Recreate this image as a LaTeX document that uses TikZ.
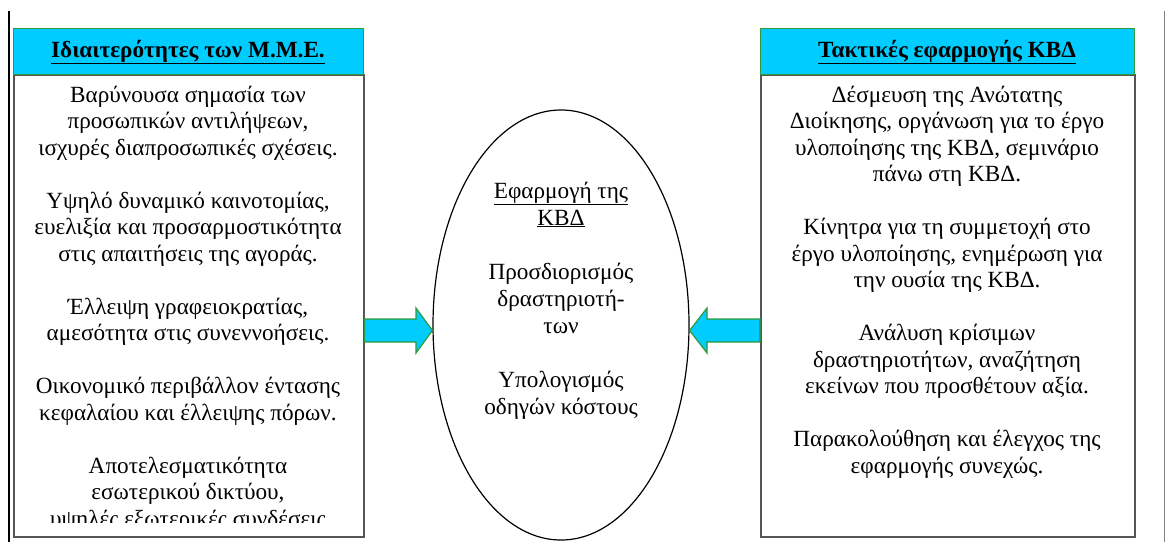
\documentclass[tikz,border=0pt]{standalone}
\usepackage{fontspec}
\setmainfont{Liberation Serif}
\usetikzlibrary{shapes.geometric}
\definecolor{hdrcyan}{HTML}{00CCFF}
\definecolor{hdrgreen}{HTML}{2E9A3A}
\definecolor{bodygray}{HTML}{555555}
\newcommand\mylines[1]{\begin{tabular}[t]{@{}c@{}}#1\end{tabular}}
\begin{document}
\begin{tikzpicture}[x=1pt,y=-1pt,
  hdrbox/.style={draw=hdrgreen, fill=hdrcyan, line width=1.2pt, inner sep=0, anchor=north west},
  bodybox/.style={draw=bodygray, line width=1.6pt, fill=white, inner sep=0, anchor=north west},
  txt/.style={font=\fontsize{23.2}{26.5}\selectfont, anchor=base, inner sep=0},
  elltxt/.style={font=\fontsize{23.2}{27}\selectfont, anchor=base, inner sep=0},
  hdrtxt/.style={font=\fontsize{23.2}{26}\selectfont\bfseries, anchor=base, inner sep=0},
  bigarrow/.style={fill=hdrcyan, draw=hdrgreen, line width=1.2pt, line join=miter},
  frameline/.style={line width=1.4pt}
]
\useasboundingbox (0,0) rectangle (1174,542);
\fill[white] (0,0) rectangle (1174,542);

% page frame lines
\coordinate (fl1) at (9,11);
\coordinate (fl2) at (9,542);
\coordinate (fr1) at (1164,11);
\coordinate (fr2) at (1164,542);
\draw[frameline, black] (fl1) -- (fl2);
\draw[line width=1pt, gray] (fr1) -- (fr2);

% left box
\fill[gray!60] (15,76) rectangle (365,538);
\node[bodybox, minimum width=350pt, minimum height=462pt] (lbody) at (13,74) {};
\node[hdrbox, minimum width=350pt, minimum height=46pt] (lhdr) at (13,28) {};
\node[hdrtxt] (lhdrt) at (188,57) {\underline{Ιδιαιτερότητες των Μ.Μ.Ε.}};
\begin{scope}
\clip (14,75) rectangle (362,522);
\node[txt] (ltext) at (188,102) {\mylines{Βαρύνουσα σημασία των\\προσωπικών αντιλήψεων,\\ισχυρές διαπροσωπικές σχέσεις.\\ \\
Υψηλό δυναμικό καινοτομίας,\\ευελιξία και προσαρμοστικότητα\\στις απαιτήσεις της αγοράς.\\ \\
Έλλειψη γραφειοκρατίας,\\αμεσότητα στις συνεννοήσεις.\\ \\
Οικονομικό περιβάλλον έντασης\\κεφαλαίου και έλλειψης πόρων.\\ \\
Αποτελεσματικότητα\\εσωτερικού δικτύου,\\υψηλές εξωτερικές συνδέσεις}};
\end{scope}

% right box
\fill[gray!60] (762,76) rectangle (1136,538);
\node[bodybox, minimum width=374pt, minimum height=462pt] (rbody) at (760,74) {};
\node[hdrbox, minimum width=374pt, minimum height=46pt] (rhdr) at (760,28) {};
\node[hdrtxt] (rhdrt) at (947,57) {\underline{Τακτικές εφαρμογής ΚΒΔ}};
\node[txt] (rtext) at (947,102) {\mylines{Δέσμευση της Ανώτατης\\Διοίκησης, οργάνωση για το έργο\\υλοποίησης της ΚΒΔ, σεμινάριο\\πάνω στη ΚΒΔ.\\ \\
Κίνητρα για τη συμμετοχή στο\\έργο υλοποίησης, ενημέρωση για\\την ουσία της ΚΒΔ.\\ \\
Ανάλυση κρίσιμων\\δραστηριοτήτων, αναζήτηση\\εκείνων που προσθέτουν αξία.\\ \\
Παρακολούθηση και έλεγχος της\\εφαρμογής συνεχώς.}};

% ellipse
\node[draw, ellipse, line width=1.2pt, minimum width=256pt, minimum height=430pt, inner sep=0] (ell) at (561,325) {};
\node[elltxt] (etext) at (561,198) {\mylines{\underline{Εφαρμογή της}\\\underline{ΚΒΔ}\\ \\
Προσδιορισμός\\δραστηριοτή-\\των\\ \\
Υπολογισμός\\οδηγών κόστους}};

% arrows
\draw[bigarrow] (lbody.east |- 0,319) -- (416,319) -- (416,308) -- (ell.west |- 0,330.5) -- (416,353) -- (416,342) -- (lbody.east |- 0,342) -- cycle;
\draw[bigarrow] (rbody.west |- 0,319) -- (707,319) -- (707,308) -- (ell.east |- 0,330.5) -- (707,353) -- (707,342) -- (rbody.west |- 0,342) -- cycle;
\end{tikzpicture}
\end{document}
